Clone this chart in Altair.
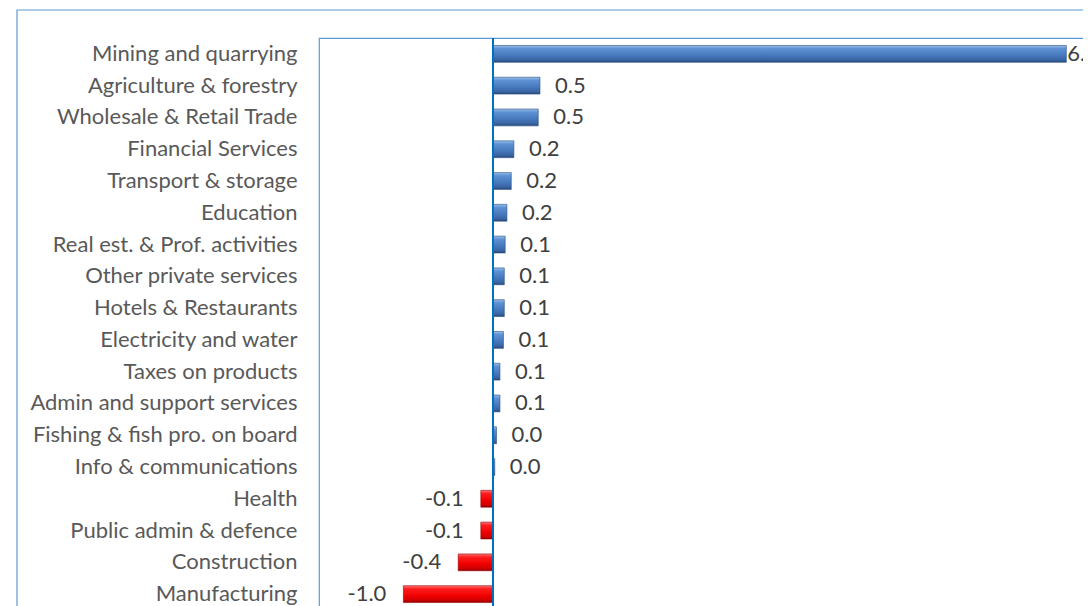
import altair as alt
import pandas as pd

categories = [
    "Mining and quarrying", "Agriculture & forestry", "Wholesale & Retail Trade",
    "Financial Services", "Transport & storage", "Education",
    "Real est. & Prof. activities", "Other private services ", "Hotels & Restaurants",
    "Electricity and water", "Taxes on products", "Admin and support services ",
    "Fishing & fish pro. on board", "Info & communications", "Health",
    "Public admin & defence", "Construction", "Manufacturing",
]
values = [6.59, 0.54, 0.52, 0.24, 0.21, 0.16, 0.14, 0.13, 0.13, 0.12, 0.08, 0.08,
          0.04, 0.02, -0.14, -0.14, -0.40, -1.03]

df = pd.DataFrame({"sector": categories, "value": values})

FONT = "Lato"
FS = 22
blue_grad = {
    "gradient": "linear", "x1": 0, "y1": 0, "x2": 0, "y2": 1,
    "stops": [
        {"offset": 0.0, "color": "#9CC0EA"},
        {"offset": 0.18, "color": "#5E93D4"},
        {"offset": 0.6, "color": "#4677BC"},
        {"offset": 0.85, "color": "#3A66A3"},
        {"offset": 1.0, "color": "#26467A"},
    ],
}
red_grad = {
    "gradient": "linear", "x1": 0, "y1": 0, "x2": 0, "y2": 1,
    "stops": [
        {"offset": 0.0, "color": "#FF7A7A"},
        {"offset": 0.18, "color": "#FF1E1E"},
        {"offset": 0.6, "color": "#F00000"},
        {"offset": 0.85, "color": "#D20000"},
        {"offset": 1.0, "color": "#8E0000"},
    ],
}

y_enc = alt.Y("sector:N", sort=categories,
              scale=alt.Scale(range=[0, 572], paddingInner=0.47, paddingOuter=0.235),
              axis=alt.Axis(title=None, ticks=False, domain=False, labelPadding=22,
                            labelFont=FONT, labelFontSize=FS, labelColor="#595959",
                            labelLimit=400))
x_enc = alt.X("value:Q", scale=alt.Scale(domain=[-2, 7], nice=False, zero=True), axis=None)

base = alt.Chart(df).transform_calculate(
    lbl="replace(format(datum.value, '.1f'), '\u2212', '-')"
)

pos_bars = base.transform_filter("datum.value >= 0").mark_bar(
    color=blue_grad, stroke="#2A4F85", strokeWidth=0.6
).encode(x=x_enc, y=y_enc)
neg_bars = base.transform_filter("datum.value < 0").mark_bar(
    color=red_grad, stroke="#9A0000", strokeWidth=0.6
).encode(x=x_enc, y=y_enc)

txt_kw = dict(font=FONT, fontSize=FS, color="#404040", baseline="middle")
pos_lbl = base.transform_filter("datum.value >= 0 && datum.value < 5").mark_text(
    align="left", dx=15, **txt_kw
).encode(x=x_enc, y=y_enc, text="lbl:N")
big_lbl = base.transform_filter("datum.value >= 5").mark_text(
    align="left", dx=1, **txt_kw
).encode(x=x_enc, y=y_enc, text="lbl:N")
neg_lbl = base.transform_filter("datum.value < 0").mark_text(
    align="right", dx=-17, **txt_kw
).encode(x=x_enc, y=y_enc, text="lbl:N")

zero_df = pd.DataFrame({"z": [0]})
zero_line = alt.Chart(zero_df).mark_rule(color="#0070C0", strokeWidth=2).encode(
    x=alt.X("z:Q", scale=alt.Scale(domain=[-2, 7], nice=False), axis=None),
    y=alt.value(0), y2=alt.value(700)
)

frame_df = pd.DataFrame({"f": [1]})
frame = alt.Chart(frame_df).mark_rect(
    fill=None, fillOpacity=0, stroke="#5B9BD5", strokeWidth=1.2
).encode(
    x=alt.value(-302), x2=alt.value(1000), y=alt.value(-28), y2=alt.value(800)
)

chart = alt.layer(frame, pos_bars, neg_bars, zero_line, pos_lbl, big_lbl, neg_lbl).properties(
    width=783, height=572,
    autosize=alt.AutoSizeParams(type="none"),
    padding={"left": 311, "top": 30, "right": -19, "bottom": -4},
    background="white",
).configure_view(stroke="#5B9BD5", strokeWidth=1.2)

chart.save("out.html", embed_options={"renderer": "svg", "actions": False})
